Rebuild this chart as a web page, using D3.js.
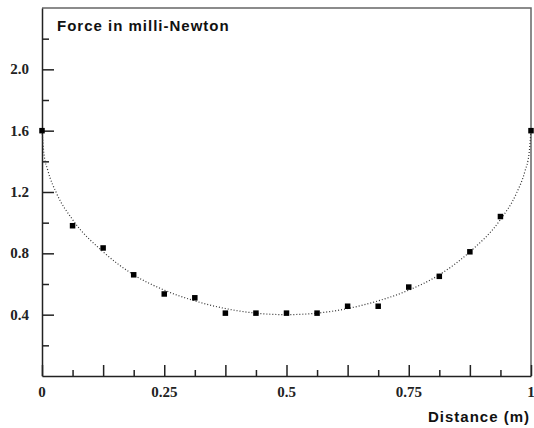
<!DOCTYPE html>
<html>
<head>
<meta charset="utf-8">
<script src="https://cdn.jsdelivr.net/npm/d3@7"></script>
<style>
  body { margin: 0; background: #fff; }
  .tick-lab { font-family: "Liberation Serif", serif; font-weight: bold; font-size: 15px; fill: #222; }
  .lab { font-family: "Liberation Sans", Arial, sans-serif; font-weight: bold; font-size: 15px; fill: #111; letter-spacing: 1px; }
</style>
</head>
<body>
<svg id="chart" width="534" height="428"></svg>
<script>
// measured points
let distance = [0, 0.0625, 0.125, 0.1875, 0.25, 0.3125, 0.375, 0.4375, 0.5,
                0.5625, 0.625, 0.6875, 0.75, 0.8125, 0.875, 0.9375, 1];
let force = [1.6, 0.98, 0.835, 0.66, 0.535, 0.51, 0.41, 0.41, 0.41,
             0.41, 0.455, 0.455, 0.58, 0.65, 0.81, 1.04, 1.6];

// fitted curve
let curveX = [0, 0.004, 0.012, 0.03, 0.0625, 0.125, 0.1875, 0.25, 0.3125, 0.375, 0.4375, 0.5,
              0.5625, 0.625, 0.6875, 0.75, 0.8125, 0.875, 0.9375, 0.97, 0.988, 0.996, 1];
let curveY = [1.6, 1.45, 1.34, 1.19, 1.02, 0.81, 0.66, 0.56, 0.49, 0.44, 0.41, 0.40,
              0.41, 0.44, 0.49, 0.56, 0.66, 0.81, 1.02, 1.19, 1.34, 1.45, 1.6];

let yLabels = ['0.4', '0.8', '1.2', '1.6', '2.0'];
let xLabels = ['0', '0.25', '0.5', '0.75', '1'];

let svg = d3.select('#chart');
let mLeft = 42, mRight = 531, mTop = 8, mBottom = 376;

let x = d3.scaleLinear().domain([0, 1]).range([mLeft, mRight]);
let y = d3.scaleLinear().domain([0, 2.4]).range([mBottom, mTop]);

// frame (top and right, grey)
svg.append('path')
  .attr('d', 'M' + mLeft + ',' + mTop + 'H' + mRight + 'V' + mBottom)
  .attr('fill', 'none')
  .attr('stroke', '#666')
  .attr('stroke-width', 1.5);

// x axis
let xAxis = d3.axisBottom(x)
  .tickValues(d3.range(0, 17).map(function(i){ return i / 16; }))
  .tickSize(0)
  .tickFormat('');
let gx = svg.append('g').attr('transform', 'translate(0,' + mBottom + ')').call(xAxis);
gx.select('.domain').attr('stroke', '#222').attr('stroke-width', 1.5);
gx.selectAll('.tick line')
  .attr('y2', function(d, i){ return i % 2 == 0 ? -11 : -6; })
  .attr('stroke', '#222').attr('stroke-width', 1.5);

svg.selectAll('.xlab')
  .data(xLabels)
  .enter().append('text')
  .attr('class', 'tick-lab')
  .attr('x', function(d){ return x(+d); })
  .attr('y', 397)
  .attr('text-anchor', 'middle')
  .text(function(d){ return d; });

// y axis
let yAxis = d3.axisLeft(y)
  .tickValues(d3.range(1, 12).map(function(i){ return i * 0.2; }))
  .tickSize(0)
  .tickFormat('');
let gy = svg.append('g').attr('transform', 'translate(' + mLeft + ',0)').call(yAxis);
gy.select('.domain').attr('stroke', '#222').attr('stroke-width', 1.5);
gy.selectAll('.tick line')
  .attr('x2', function(d, i){ return i % 2 == 1 ? 12 : 7; })
  .attr('stroke', '#222').attr('stroke-width', 1.5);

svg.selectAll('.ylab')
  .data(yLabels)
  .enter().append('text')
  .attr('class', 'tick-lab')
  .attr('x', 29)
  .attr('y', function(d){ return y(+d) + 5; })
  .attr('text-anchor', 'end')
  .text(function(d){ return d; });

// fitted curve
let line = d3.line()
  .x(function(d){ return x(d[0]); })
  .y(function(d){ return y(d[1]); })
  .curve(d3.curveMonotoneX);

svg.append('path')
  .datum(d3.zip(curveX, curveY))
  .attr('d', line)
  .attr('fill', 'none')
  .attr('stroke', '#333')
  .attr('stroke-width', 1.2)
  .attr('stroke-dasharray', '1,2');

// markers
svg.selectAll('rect.pt')
  .data(d3.zip(distance, force))
  .enter().append('rect')
  .attr('class', 'pt')
  .attr('x', function(d){ return x(d[0]) - 2.75; })
  .attr('y', function(d){ return y(d[1]) - 2.75; })
  .attr('width', 5.5)
  .attr('height', 5.5)
  .attr('fill', '#000');

// titles
svg.append('text').attr('class', 'lab')
  .attr('x', 57).attr('y', 31)
  .text('Force in milli-Newton');

svg.append('text').attr('class', 'lab')
  .attr('x', 530).attr('y', 422)
  .attr('text-anchor', 'end')
  .text('Distance (m)');
</script>
</body>
</html>
